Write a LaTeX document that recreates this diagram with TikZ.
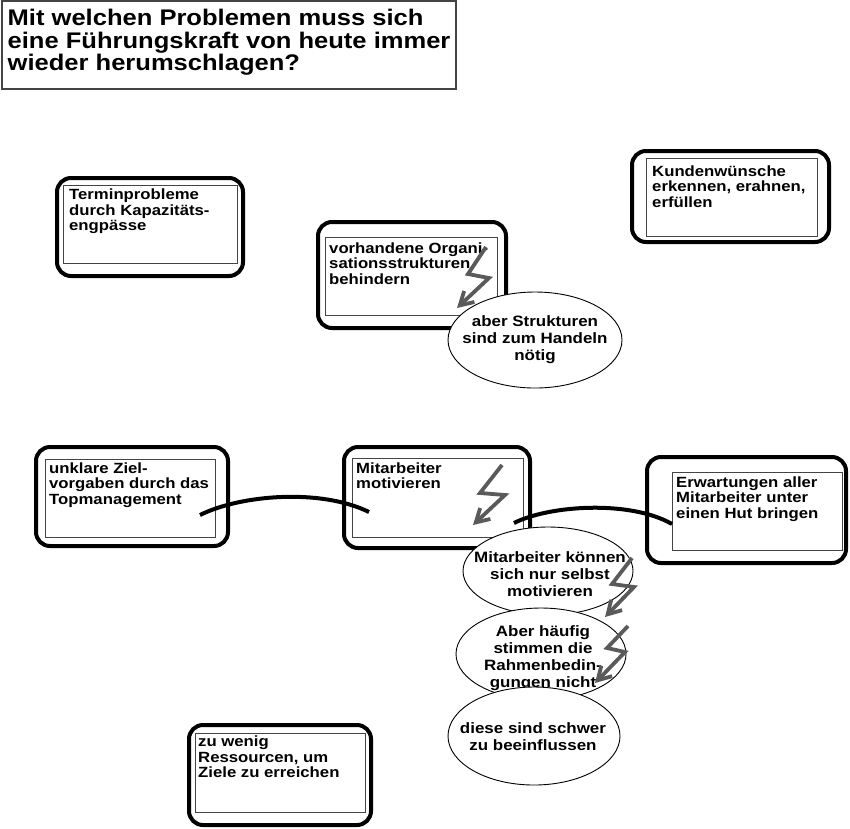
\documentclass[tikz,border=0pt]{standalone}
\usepackage{fontspec}
\newfontfamily\dfont{Liberation Sans Bold}[FakeStretch=1.13]
\usetikzlibrary{arrows.meta}
\definecolor{boltgray}{HTML}{5A5A5A}
\definecolor{framegray}{HTML}{444444}
\tikzset{
  outerbox/.style={draw=black, line width=4pt, rounded corners=14pt, fill=white},
  innerbox/.style={draw=framegray, line width=1pt},
  boxtext/.style={anchor=base west, inner sep=0pt, font=\dfont\fontsize{14.8}{15.5}\selectfont},
  elltext/.style={anchor=base, inner sep=0pt, font=\dfont\fontsize{15}{17}\selectfont},
  bubble/.style={draw=black, line width=0.9pt, fill=white},
  link/.style={draw=black, line width=4pt},
  bolt/.style={draw=boltgray, line width=3.8pt, -{Straight Barb[length=13pt,width=15pt]}},
}
\newcommand{\lines}[2]{\begin{tabular}[t]{@{}#1@{}}#2\end{tabular}}
\begin{document}
\begin{tikzpicture}[x=1pt,y=-1pt]
\useasboundingbox[fill=white] (0,0) rectangle (850,828);

% title
\draw[draw=framegray, line width=1.5pt] (2,1) rectangle (456,89);
\node[anchor=base west, inner sep=0pt, font=\dfont\fontsize{22.6}{21}\selectfont] (title) at (7.5,25.5)
  {\lines{l}{Mit welchen Problemen muss sich\\eine Führungskraft von heute immer\\wieder herumschlagen?}};

% box 1
\draw[outerbox] (57,178) rectangle (243,276);
\draw[innerbox] (63,185) rectangle (237,263);
\node[boxtext] (t1) at (69,199.5) {\lines{l}{Terminprobleme\\durch Kapazitäts-\\engpässe}};

% box 2
\draw[outerbox] (318,222) rectangle (506,328);
\draw[innerbox] (325,237) rectangle (497,315);
\node[boxtext] (t2) at (329,253) {\lines{l}{vorhandene Organi-\\sationsstrukturen\\behindern}};

% box 3
\draw[outerbox] (632,151) rectangle (829,242);
\draw[innerbox] (646,158) rectangle (817,236);
\node[boxtext] (t3) at (652,176) {\lines{l}{Kundenwünsche\\erkennen, erahnen,\\erfüllen}};

% box 4
\draw[outerbox] (36,447) rectangle (228,546);
\draw[innerbox] (45,459) rectangle (215,537);
\node[boxtext] (t4) at (49,473.3) {\lines{l}{unklare Ziel-\\vorgaben durch das\\Topmanagement}};

% box 5
\draw[outerbox] (344,447) rectangle (530,548);
\draw[innerbox] (352,458) rectangle (523,537);
\node[boxtext] (t5) at (356,473.3) {\lines{l}{Mitarbeiter\\motivieren}};

% box 6
\draw[outerbox] (647,457) rectangle (846,563);
\draw[innerbox] (672,472) rectangle (842,550);
\node[boxtext] (t6) at (676,487) {\lines{l}{Erwartungen aller\\Mitarbeiter unter\\einen Hut bringen}};

% box 7
\draw[outerbox] (189,725) rectangle (371,825);
\draw[innerbox] (195,733) rectangle (365,812);
\node[boxtext] (t7) at (198,746.5) {\lines{l}{zu wenig\\Ressourcen, um\\Ziele zu erreichen}};

% connectors
\coordinate (c1a) at (200,515);
\coordinate (c1b) at (369,512);
\coordinate (c2a) at (514,523);
\coordinate (c2b) at (672,524);
\draw[link] (c1a) .. controls (240,495) and (320,488) .. (c1b);
\draw[link] (c2a) .. controls (550,505) and (630,500) .. (c2b);

% bolts in boxes
\draw[bolt] (486,247) -- (468,274) -- (489,278) -- (457,308);
\draw[bolt] (502,465) -- (480,493) -- (505,495) -- (473,525);

% ellipse 1
\draw[bubble] (535,340) ellipse [x radius=87pt, y radius=48pt];
\node[elltext] (e1) at (535,326) {\lines{c}{aber Strukturen\\sind zum Handeln\\nötig}};

% ellipse chain
\draw[bubble] (548,571) ellipse [x radius=85pt, y radius=44pt];
\node[elltext] (e2) at (550,562) {\lines{c}{Mitarbeiter können\\sich nur selbst\\motivieren}};
\draw[bubble] (541,654) ellipse [x radius=85pt, y radius=46pt];
\node[elltext] (e3) at (543,636) {\lines{c}{Aber häufig\\stimmen die\\Rahmenbedin-\\gungen nicht}};
\draw[bubble] (534,736) ellipse [x radius=86pt, y radius=49pt];
\node[elltext] (e4) at (533,733) {\lines{c}{diese sind schwer\\zu beeinflussen}};

% bolts between ellipses
\draw[bolt] (632,558) -- (612,584) -- (634,587) -- (605,617);
\draw[bolt] (628,626) -- (607,648) -- (625,652) -- (595,683);
\end{tikzpicture}
\end{document}
